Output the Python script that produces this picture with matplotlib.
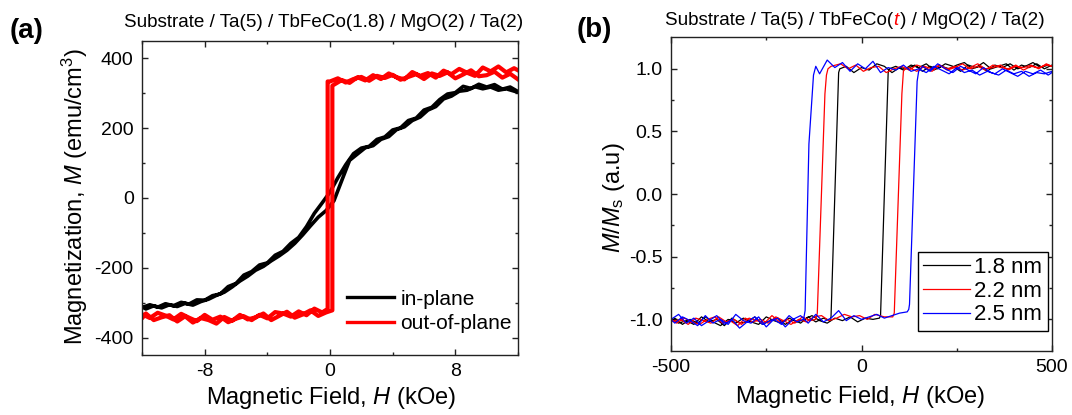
import matplotlib
matplotlib.use("Agg")
import matplotlib.pyplot as plt
from matplotlib.ticker import FixedLocator, FormatStrFormatter

plt.rcParams['font.family'] = ['Liberation Sans', 'DejaVu Sans']
plt.rcParams['mathtext.fontset'] = 'custom'
plt.rcParams['mathtext.rm'] = 'Liberation Sans'
plt.rcParams['mathtext.it'] = 'Liberation Sans:italic'
plt.rcParams['mathtext.bf'] = 'Liberation Sans:bold'
plt.rcParams['axes.unicode_minus'] = False

# ---------------- Panel (a) data: TbFeCo(1.8) M-H loops ----------------
H_inplane_desc = [12, 11.5, 11, 10.5, 10, 9.5, 9, 8.5, 8, 7.5, 7, 6.5, 6, 5.5, 5, 4.5, 4, 3.5, 3, 2.5,
                  2, 1.5, 1, 0.5, 0, -0.5, -1, -1.5, -2, -2.5, -3, -3.5, -4, -4.5, -5, -5.5, -6, -6.5,
                  -7, -7.5, -8, -8.5, -9, -9.5, -10, -10.5, -11, -11.5, -12]
M_inplane_desc = [305, 318, 312, 325, 318, 326, 314, 320, 302, 298, 282, 260, 252, 229, 222, 201, 195, 175,
                  168, 148, 143, 127, 95, 58, 17, -14, -44, -82, -113, -130, -153, -164, -186, -192, -211,
                  -221, -245, -254, -275, -280, -293, -292, -304, -299, -309, -303, -313, -306, -314]
H_inplane_asc = [-12, -11.75, -11.25, -10.75, -10.25, -9.75, -9.25, -8.75, -8.25, -7.75, -7.25, -6.75,
                 -6.25, -5.75, -5.25, -4.75, -4.25, -3.75, -3.25, -2.75, -2.25, -1.75, -1.25, -0.75,
                 -0.25, 0.25, 0.75, 1.25, 1.75, 2.25, 2.75, 3.25, 3.75, 4.25, 4.75, 5.25, 5.75, 6.25,
                 6.75, 7.25, 7.75, 8.25, 8.75, 9.25, 9.75, 10.25, 10.75, 11.25, 12]
M_inplane_asc = [-312, -318, -309, -315, -306, -311, -302, -307, -297, -290, -279, -270, -255, -238, -224,
                 -207, -196, -180, -166, -150, -130, -106, -80, -55, -36, -8, 50, 108, 126, 144, 150, 168,
                 176, 196, 204, 222, 232, 252, 262, 284, 292, 306, 309, 319, 313, 318, 309, 313, 303]

H_oop_desc = [12, 11.5, 11, 10.5, 10, 9.5, 9, 8.5, 8, 7.5, 7, 6.5, 6, 5.5, 5, 4.5, 4, 3.5, 3, 2.5, 2, 1.5,
              1, 0.5, 0, -0.15, -0.15, -0.5, -1, -1.5, -2, -2.5, -3, -3.5, -4, -4.5, -5, -5.5, -6, -6.5,
              -7, -7.5, -8, -8.5, -9, -9.5, -10, -10.5, -11, -11.5, -12]
M_oop_desc = [340, 356, 345, 362, 352, 349, 366, 354, 343, 360, 350, 357, 341, 355, 347, 339, 353, 344,
              350, 336, 347, 341, 331, 343, 334, 334, -318, -328, -317, -336, -325, -340, -331, -327,
              -345, -335, -350, -339, -346, -356, -340, -349, -335, -353, -343, -332, -348, -337, -329,
              -344, -333]
H_oop_asc = [-12, -11.75, -11.25, -10.75, -10.25, -9.75, -9.25, -8.75, -8.25, -7.75, -7.25, -6.75, -6.25,
             -5.75, -5.25, -4.75, -4.25, -3.75, -3.25, -2.75, -2.25, -1.75, -1.25, -0.75, -0.25, 0.15,
             0.15, 0.75, 1.25, 1.75, 2.25, 2.75, 3.25, 3.75, 4.25, 4.75, 5.25, 5.75, 6.25, 6.75, 7.25,
             7.75, 8.25, 8.75, 9.25, 9.75, 10.25, 10.75, 11.25, 11.75, 12]
M_oop_asc = [-345, -331, -350, -342, -336, -354, -339, -357, -344, -350, -360, -341, -352, -335, -348,
             -342, -331, -350, -338, -326, -343, -334, -322, -338, -328, -322, 322, 338, 330, 346, 337,
             352, 341, 357, 346, 340, 361, 350, 358, 345, 365, 355, 370, 359, 350, 374, 363, 377, 360,
             372, 366]

labels_a = ['in-plane', 'out-of-plane']

# ---------------- Panel (b) data: normalized loops vs thickness ----------------
thickness_labels = ['1.8 nm', '2.2 nm', '2.5 nm']

H_18_desc = [500, 480, 460, 440, 420, 400, 380, 360, 340, 320, 300, 280, 260, 240, 220, 200, 180, 160,
             140, 120, 100, 80, 60, 40, 20, 0, -20, -40, -57, -60, -80, -83, -100, -120, -140, -160,
             -180, -200, -220, -240, -260, -280, -300, -320, -340, -360, -380, -400, -420, -440, -460,
             -480, -500]
M_18_desc = [1.03, 1.00, 1.04, 1.01, 1.03, 0.99, 1.04, 1.02, 1.00, 1.05, 1.01, 1.03, 0.98, 1.02, 1.04,
             1.00, 1.02, 0.98, 1.03, 1.00, 1.01, 0.97, 1.02, 1.04, 0.99, 1.01, 0.97, 1.02, 1.00, 0.97,
             -0.98, -1.01, -0.99, -1.02, -0.98, -1.03, -1.00, -1.04, -0.99, -1.01, -1.04, -0.98, -1.02,
             -1.03, -0.99, -1.05, -1.00, -1.02, -0.98, -1.04, -1.01, -1.03, -0.99]
H_18_asc = [-500, -490, -470, -450, -430, -410, -390, -370, -350, -330, -310, -290, -270, -250, -230,
            -210, -190, -170, -150, -130, -110, -90, -70, -50, -30, -10, 10, 30, 47, 50, 70, 73, 90, 110,
            130, 150, 170, 190, 210, 230, 250, 270, 290, 310, 330, 350, 370, 390, 410, 430, 450, 470,
            490, 500]
M_18_asc = [-1.02, -0.99, -1.04, -1.00, -1.03, -0.98, -1.02, -1.05, -1.00, -1.03, -0.99, -1.02, -1.04,
            -0.98, -1.01, -1.03, -0.99, -1.02, -1.00, -0.97, -1.01, -1.03, -0.99, -1.01, -0.98, -1.02,
            -0.99, -1.00, -0.99, -0.97, 0.97, 1.00, 1.02, 0.99, 1.03, 1.01, 1.04, 0.99, 1.02, 1.00,
            1.03, 1.05, 1.00, 1.02, 0.98, 1.03, 1.01, 1.04, 1.00, 1.02, 1.05, 1.01, 1.03, 1.02]

H_22_desc = [500, 485, 465, 445, 425, 405, 385, 365, 345, 325, 305, 285, 265, 245, 225, 205, 185, 165,
             145, 125, 105, 85, 65, 45, 25, 5, -15, -35, -55, -80, -88, -92, -96, -116, -120, -135,
             -155, -175, -195, -215, -235, -255, -275, -295, -315, -335, -355, -375, -395, -415, -435,
             -455, -475, -500]
M_22_desc = [1.02, 1.04, 1.00, 1.03, 1.01, 1.02, 0.99, 1.03, 1.01, 1.00, 1.04, 1.01, 0.99, 1.02, 1.00,
             1.03, 0.98, 1.01, 1.03, 0.99, 1.02, 1.00, 0.97, 1.02, 1.01, 0.98, 1.03, 1.00, 1.04, 1.02,
             1.00, 0.95, 0.80, -0.95, -1.00, -1.01, -0.98, -1.03, -1.00, -1.02, -0.97, -1.03, -1.01,
             -0.99, -1.04, -1.00, -1.02, -0.98, -1.03, -1.01, -0.99, -1.04, -1.00, -1.02]
H_22_asc = [-500, -485, -465, -445, -425, -405, -385, -365, -345, -325, -305, -285, -265, -245, -225,
            -205, -185, -165, -145, -125, -105, -85, -65, -45, -25, -5, 15, 35, 60, 82, 86, 106, 110,
            114, 125, 145, 165, 185, 205, 225, 245, 265, 285, 305, 325, 345, 365, 385, 405, 425, 445,
            465, 485, 500]
M_22_asc = [-1.00, -1.03, -0.99, -1.02, -1.04, -1.00, -0.98, -1.03, -1.01, -1.05, -0.99, -1.02, -1.00,
            -1.03, -0.98, -1.01, -1.04, -1.00, -1.02, -0.98, -0.97, -1.01, -0.99, -0.96, -0.98, -0.97,
            -1.00, -0.96, -0.98, -0.98, -0.95, 0.80, 0.98, 1.00, 1.01, 0.98, 1.02, 1.00, 1.03, 0.99,
            1.01, 1.04, 1.00, 1.02, 0.99, 1.03, 1.01, 1.00, 1.03, 0.99, 1.02, 1.01, 1.03, 1.02]

H_25_desc = [500, 490, 470, 450, 430, 410, 390, 370, 350, 330, 310, 290, 270, 250, 230, 210, 190, 170,
             150, 130, 110, 90, 70, 50, 30, 10, -10, -30, -50, -70, -90, -110, -120, -126, -138, -148,
             -152, -170, -190, -210, -230, -250, -270, -290, -310, -330, -350, -370, -390, -410, -430,
             -450, -470, -490, -500]
M_25_desc = [0.97, 0.95, 0.99, 0.96, 0.98, 0.94, 0.97, 1.00, 0.96, 0.98, 0.95, 0.99, 0.97, 1.01, 0.96,
             0.99, 1.02, 0.97, 1.00, 0.98, 1.03, 0.99, 1.01, 0.97, 1.06, 1.00, 1.04, 0.98, 1.05, 1.01,
             1.07, 0.96, 1.02, 0.95, 0.40, -0.93, -1.00, -1.02, -0.97, -1.04, -1.00, -1.06, -0.98,
             -1.03, -1.01, -0.96, -1.04, -1.00, -1.03, -0.97, -1.05, -1.01, -0.98, -1.03, -1.00]
H_25_asc = [-500, -480, -460, -440, -420, -400, -380, -360, -340, -320, -300, -280, -260, -240, -220,
            -200, -180, -160, -140, -120, -100, -80, -60, -40, -20, 0, 20, 40, 60, 80, 100, 120, 124,
            126, 146, 150, 160, 180, 200, 220, 240, 260, 280, 300, 320, 340, 360, 380, 400, 420, 440,
            460, 480, 500]
M_25_asc = [-1.00, -0.96, -1.03, -0.99, -1.05, -1.01, -0.97, -1.04, -1.00, -1.07, -1.02, -0.98, -1.04,
            -1.01, -0.99, -1.06, -1.00, -0.97, -1.03, -0.96, -1.02, -0.99, -0.93, -1.01, -0.97, -1.00,
            -0.98, -0.96, -0.99, -0.97, -0.95, -0.94, -0.92, -0.88, 0.90, 0.98, 1.02, 0.98, 1.04, 1.00,
            0.97, 1.02, 0.99, 0.96, 1.01, 0.97, 0.95, 0.99, 0.96, 0.98, 0.94, 0.97, 0.96, 0.98]

# ---------------- Figure ----------------
W, Hh = 1072, 415
fig = plt.figure(figsize=(W / 100, Hh / 100), dpi=100)

def px_axes(l, t, r, b):
    return [l / W, 1 - b / Hh, (r - l) / W, (b - t) / Hh]

axA = fig.add_axes(px_axes(142, 41, 518, 355))
axB = fig.add_axes(px_axes(671, 37.5, 1052, 350.7))

spine_col = '#222222'
for ax in (axA, axB):
    for s in ax.spines.values():
        s.set_linewidth(1.0)
        s.set_color(spine_col)
    ax.tick_params(which='both', direction='in', top=True, right=True, color=spine_col,
                   labelsize=14)
    ax.tick_params(which='major', length=4, width=1.0, pad=6)
    ax.tick_params(which='minor', length=2.5, width=1.0)

# Panel (a)
axA.plot(H_inplane_desc + H_inplane_asc, M_inplane_desc + M_inplane_asc, color='black', lw=2.6,
         label=labels_a[0])
axA.plot(H_oop_desc + H_oop_asc, M_oop_desc + M_oop_asc, color='#ff0000', lw=3.0, label=labels_a[1])
axA.set_xlim(-12, 12)
axA.set_ylim(-450, 450)
axA.xaxis.set_major_locator(FixedLocator([-8, 0, 8]))
axA.xaxis.set_minor_locator(FixedLocator([-12, -4, 4, 12]))
axA.yaxis.set_major_locator(FixedLocator([-400, -200, 0, 200, 400]))
axA.yaxis.set_minor_locator(FixedLocator([-300, -100, 100, 300]))
axA.set_xlabel(r'Magnetic Field, $H$ (kOe)', fontsize=17)
axA.set_ylabel(r'Magnetization, $M$ (emu/cm$^3$)', fontsize=17)
axA.xaxis.label.set(va='center', ha='center')
axA.xaxis.set_label_coords(331 / W, 1 - 398 / Hh, transform=fig.transFigure)
axA.yaxis.label.set(va='center', ha='center', rotation_mode='default')
axA.yaxis.set_label_coords(75 / W, 1 - 197 / Hh, transform=fig.transFigure)
legA = axA.legend(loc='lower right', bbox_to_anchor=((512 - 142) / 376, (355 - 333) / 314),
                  frameon=False, fontsize=15, handlelength=2.25, handletextpad=0.3,
                  labelspacing=0.25, borderpad=0, borderaxespad=0)
for h in legA.get_lines():
    h.set_linewidth(2.4)

# Panel (b)
colors_b = ['black', '#ff0000', '#0000ff']
axB.plot(H_18_desc + H_18_asc, M_18_desc + M_18_asc, color=colors_b[0], lw=0.9, label=thickness_labels[0])
axB.plot(H_22_desc + H_22_asc, M_22_desc + M_22_asc, color=colors_b[1], lw=0.9, label=thickness_labels[1])
axB.plot(H_25_desc + H_25_asc, M_25_desc + M_25_asc, color=colors_b[2], lw=0.9, label=thickness_labels[2])
axB.set_xlim(-500, 500)
axB.set_ylim(-1.25, 1.25)
axB.xaxis.set_major_locator(FixedLocator([-500, 0, 500]))
axB.xaxis.set_minor_locator(FixedLocator([-250, 250]))
axB.yaxis.set_major_locator(FixedLocator([-1.0, -0.5, 0.0, 0.5, 1.0]))
axB.yaxis.set_minor_locator(FixedLocator([-0.75, -0.25, 0.25, 0.75]))
axB.yaxis.set_major_formatter(FormatStrFormatter('%.1f'))
axB.set_xlabel(r'Magnetic Field, $H$ (kOe)', fontsize=17)
axB.set_ylabel(r'$M$/$M_\mathrm{s}$ (a.u)', fontsize=17)
axB.xaxis.label.set(va='center', ha='center')
axB.xaxis.set_label_coords(860 / W, 1 - 397 / Hh, transform=fig.transFigure)
axB.yaxis.label.set(va='center', ha='center', rotation_mode='default')
axB.yaxis.set_label_coords(614 / W, 1 - 198 / Hh, transform=fig.transFigure)
legB = axB.legend(loc='lower right', bbox_to_anchor=((1048 - 671) / 381, (350.7 - 331) / 313.2),
                  frameon=True, fancybox=False, edgecolor='black', framealpha=1, fontsize=16,
                  handlelength=2.1, handletextpad=0.2, labelspacing=0.12, borderpad=0.25,
                  borderaxespad=0)
legB.get_frame().set_linewidth(1.0)

# Titles and panel letters
fig.text(124 / W, 1 - 27 / Hh, 'Substrate / Ta(5) / TbFeCo(1.8) / MgO(2) / Ta(2)', fontsize=13.6,
         ha='left', va='baseline')
t1 = fig.text(665 / W, 1 - 25 / Hh, 'Substrate / Ta(5) / TbFeCo(', fontsize=13.6, ha='left',
              va='baseline')
t2 = fig.text(0, 0, 't', fontsize=13.6, color='#ff0000', style='italic')
t3 = fig.text(0, 0, ') / MgO(2) / Ta(2)', fontsize=13.6)
fig.canvas.draw()
r = fig.canvas.get_renderer()
bb1 = t1.get_window_extent(r)
t2.set_position(((bb1.x1) / W, 1 - 25 / Hh))
t2.set_va('baseline')
fig.canvas.draw()
bb2 = t2.get_window_extent(r)
t3.set_position(((bb2.x1 + 1) / W, 1 - 25 / Hh))
t3.set_va('baseline')

fig.text(27 / W, 1 - 31 / Hh, '(a)', fontsize=20, fontweight='bold', ha='center', va='center')
fig.text(594 / W, 1 - 30 / Hh, '(b)', fontsize=20, fontweight='bold', ha='center', va='center')

fig.savefig('out.png', dpi=100)
